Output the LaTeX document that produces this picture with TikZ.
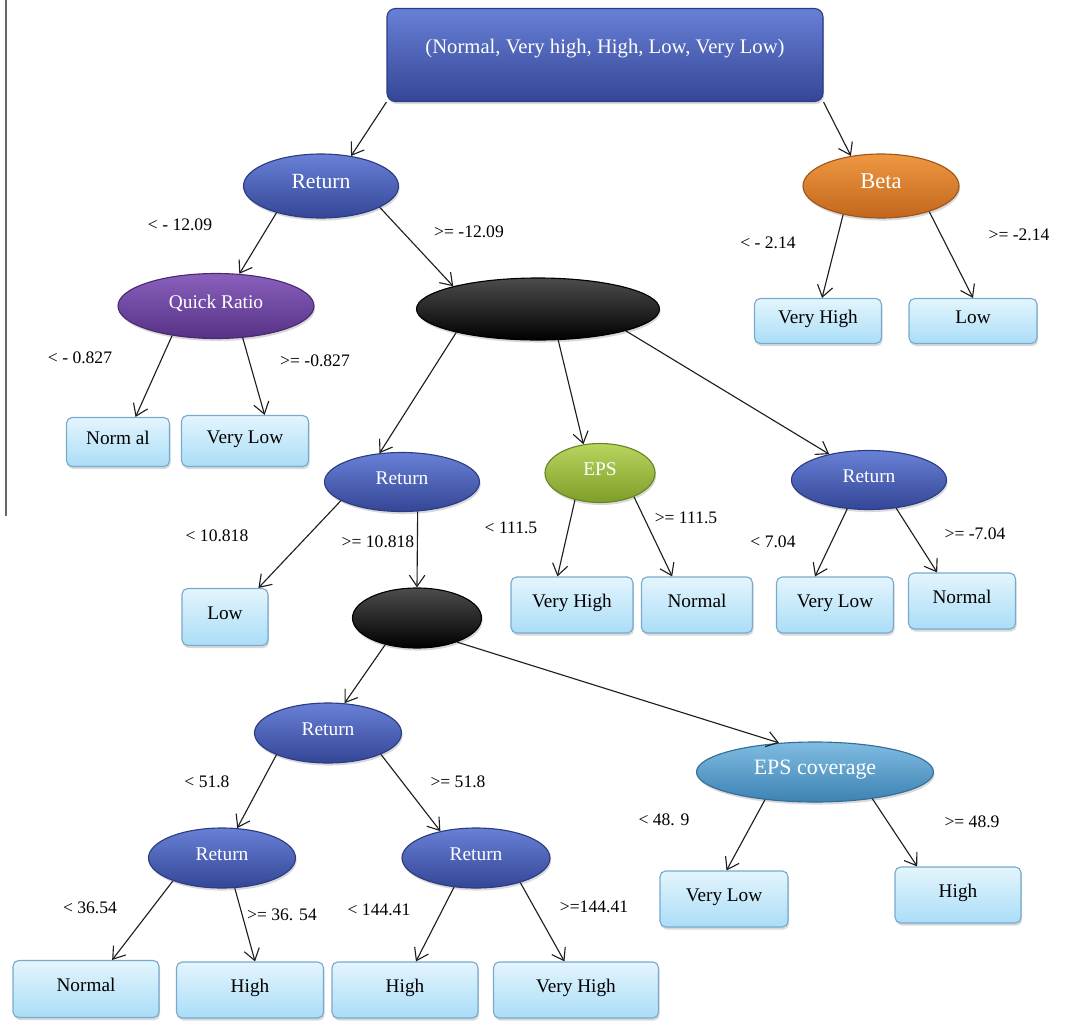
\documentclass[tikz,border=0pt]{standalone}
\usepackage{fontspec}
\setmainfont{Liberation Serif}
\usepackage{tikz}
\usetikzlibrary{arrows.meta,shapes.geometric,shadows}

\definecolor{blueTop}{RGB}{104,128,214}
\definecolor{blueBot}{RGB}{52,70,150}
\definecolor{blueRim}{RGB}{44,60,130}
\definecolor{orangeTop}{RGB}{238,152,66}
\definecolor{orangeBot}{RGB}{194,102,28}
\definecolor{orangeRim}{RGB}{160,84,24}
\definecolor{purpleTop}{RGB}{138,96,188}
\definecolor{purpleBot}{RGB}{86,50,134}
\definecolor{purpleRim}{RGB}{72,42,114}
\definecolor{greenTop}{RGB}{184,214,94}
\definecolor{greenBot}{RGB}{126,158,42}
\definecolor{greenRim}{RGB}{104,132,36}
\definecolor{tealTop}{RGB}{128,188,226}
\definecolor{tealBot}{RGB}{60,130,178}
\definecolor{tealRim}{RGB}{50,110,152}
\definecolor{leafTop}{RGB}{228,245,253}
\definecolor{leafBot}{RGB}{170,221,247}
\definecolor{leafRim}{RGB}{120,170,204}
\definecolor{edgeCol}{RGB}{30,30,30}

\begin{document}
\begin{tikzpicture}[x=0.025cm,y=-0.025cm,->,>={Straight Barb[length=8pt,width=11pt]},line width=0.8pt,
    size/.style 2 args={minimum width=#1*0.025cm,minimum height=#2*0.025cm},
    shade/.style={drop shadow={opacity=0.3,shadow xshift=0.8pt,shadow yshift=-1.8pt}},
    split node/.style={ellipse,inner sep=0pt,text=white,shade,text height=9pt,text depth=5pt,
      font=\fontsize{13.8}{16}\selectfont},
    blue split/.style={split node,top color=blueTop,bottom color=blueBot,draw=blueRim},
    leaf node/.style={rectangle,rounded corners=4pt,inner sep=0pt,shade,top color=leafTop,
      bottom color=leafBot,draw=leafRim,text height=9pt,text depth=6pt,
      font=\fontsize{13.7}{16}\selectfont},
    cond/.style={inner sep=0pt,font=\fontsize{12.5}{14}\selectfont}]

    \useasboundingbox (0,0) rectangle (1068,1021);
    \draw[-,line width=1pt,black!60] (6,0) -- (6,516);

    \node[rectangle,rounded corners=6pt,top color=blueTop,bottom color=blueBot,draw=blueRim,
      text=white,shade,size={436}{93},text depth=12pt,font=\fontsize{14.7}{17}\selectfont]
      (root) at (605,55) {(Normal, Very high, High, Low, Very Low)};

    \node[blue split,size={155}{64},font=\fontsize{15.4}{18}\selectfont] (ret1) at (321,186) {Return};
    \node[split node,top color=orangeTop,bottom color=orangeBot,draw=orangeRim,size={156}{64},
      font=\fontsize{16}{18}\selectfont] (beta) at (881,186) {Beta};
    \node[split node,top color=purpleTop,bottom color=purpleBot,draw=purpleRim,size={196}{65}]
      (quick) at (216,306) {Quick Ratio};
    \node[split node,top color=black!70,bottom color=black,draw=black,size={243}{62}] (blk1) at (538,309) {};

    \node[leaf node,size={127}{45}] (vhigh1) at (818,321) {Very High};
    \node[leaf node,size={128}{45}] (low1) at (973,321) {Low};
    \node[leaf node,size={103}{49}] (norm1) at (118,442) {Norm al};
    \node[leaf node,size={127}{51}] (vlow1) at (245,441) {Very Low};

    \node[blue split,size={155}{59}] (ret2) at (402,482) {Return};
    \node[split node,top color=greenTop,bottom color=greenBot,draw=greenRim,size={110}{59}]
      (eps) at (600,473) {EPS};
    \node[blue split,size={155}{59}] (ret3) at (869,480) {Return};

    \node[leaf node,size={86}{57}] (low2) at (225,617) {Low};
    \node[split node,top color=black!70,bottom color=black,draw=black,size={129}{60}] (blk2) at (417,618) {};
    \node[leaf node,size={122}{56}] (vhigh2) at (572,605) {Very High};
    \node[leaf node,size={111}{56}] (norm2) at (697,605) {Normal};
    \node[leaf node,size={117}{56}] (vlow2) at (835,605) {Very Low};
    \node[leaf node,size={107}{56}] (norm3) at (962,601) {Normal};

    \node[blue split,size={147}{60}] (ret4) at (328,733) {Return};
    \node[split node,top color=tealTop,bottom color=tealBot,draw=tealRim,size={237}{60},
      font=\fontsize{15.6}{18}\selectfont] (epscov) at (815,772) {EPS coverage};
    \node[blue split,size={147}{60}] (ret5) at (222,858) {Return};
    \node[blue split,size={148}{60}] (ret6) at (476,858) {Return};

    \node[leaf node,size={128}{56}] (vlow3) at (724,899) {Very Low};
    \node[leaf node,size={126}{56}] (high1) at (958,895) {High};
    \node[leaf node,size={146}{57}] (norm4) at (86,989) {Normal};
    \node[leaf node,size={147}{56}] (high2) at (250,990) {High};
    \node[leaf node,size={146}{56}] (high3) at (405,990) {High};
    \node[leaf node,size={165}{56}] (vhigh3) at (576,990) {Very High};

    % split conditions
    \node[cond] (c1) at (180,225) {< - 12.09};
    \node[cond] (c2) at (469,232) {>= -12.09};
    \node[cond] (c3) at (80,358) {< - 0.827};
    \node[cond] (c4) at (315,361) {>= -0.827};
    \node[cond] (c5) at (768,243) {< - 2.14};
    \node[cond] (c6) at (1019,235) {>= -2.14};
    \node[cond] (c7) at (217,536) {< 10.818};
    \node[cond] (c8) at (378,542) {>= 10.818};
    \node[cond] (c9) at (511,528) {< 111.5};
    \node[cond] (c10) at (686,518) {>= 111.5};
    \node[cond] (c11) at (773,542) {< 7.04};
    \node[cond] (c12) at (975,534) {>= -7.04};
    \node[cond] (c13) at (207,782) {< 51.8};
    \node[cond] (c14) at (458,782) {>= 51.8};
    \node[cond] (c15) at (664,820) {< 48. 9};
    \node[cond] (c16) at (972,822) {>= 48.9};
    \node[cond] (c17) at (90,908) {< 36.54};
    \node[cond] (c18) at (282,915) {>= 36. 54};
    \node[cond] (c19) at (379,910) {< 144.41};
    \node[cond] (c20) at (594,907) {>=144.41};

    \path[color=edgeCol]
    (root.south west) edge (ret1.45)
    (root.south east) edge (beta.135)
    (ret1.-149) edge (quick.54)
    (ret1.-20) edge (blk1.165)
    (quick.-146) edge (norm1.55)
    (quick.-50) edge (vlow1.53)
    (beta.-143) edge (vhigh1.80)
    (beta.-28) edge (low1.north)
    (blk1.-164) edge (ret2.128)
    (blk1.-57) edge (eps.120)
    (blk1.-14) edge (ret3.147)
    (ret2.-163) edge (low2.41)
    (ret2.-62) edge (blk2.north)
    (eps.-133) edge (vhigh2.117)
    (eps.-35) edge (norm2.131)
    (ret3.-127) edge (vlow2.125)
    (ret3.-46) edge (norm3.131)
    (blk2.-140) edge (ret4.61)
    (blk2.-31) edge (epscov.141)
    (ret4.-157) edge (ret5.63)
    (ret4.-22) edge (ret6.143)
    (ret5.-155) edge (norm4.48)
    (ret5.-67) edge (high2.80)
    (ret6.-127) edge (high3.69)
    (ret6.-29) edge (vhigh3.112)
    (epscov.-151) edge (vlow3.85)
    (epscov.-25) edge (high1.145);
\end{tikzpicture}
\end{document}
